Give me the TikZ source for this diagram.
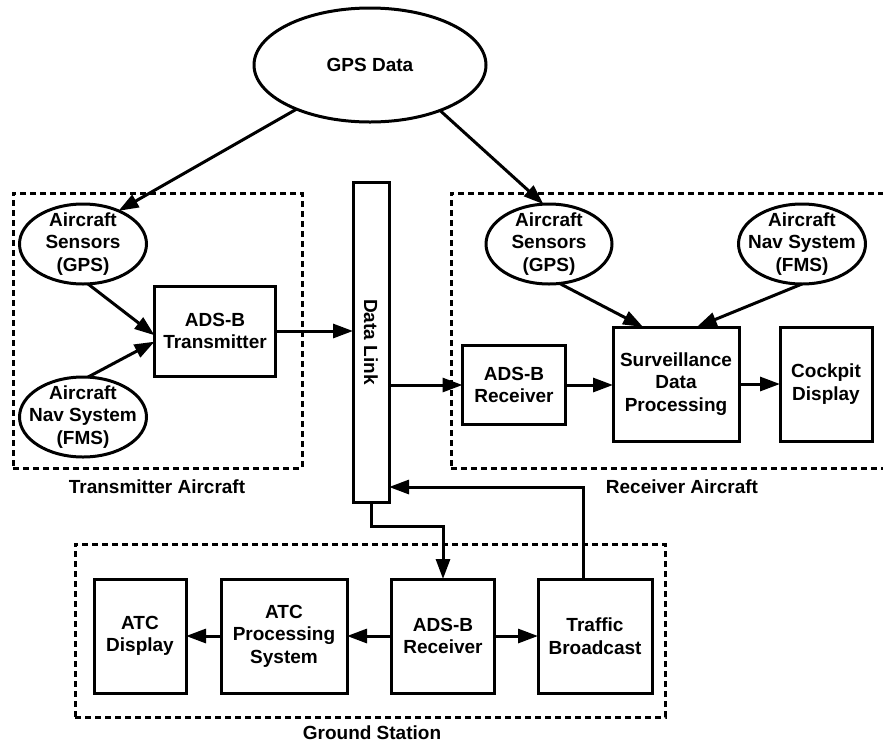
\documentclass[tikz,border=0pt]{standalone}
\usepackage{fontspec}
\setmainfont{Liberation Sans}
\usetikzlibrary{shapes.geometric,arrows.meta,calc}
\begin{document}
\begin{tikzpicture}[x=1pt,y=-1pt,
  every node/.style={font=\bfseries\fontsize{19}{22.5}\selectfont, align=center, inner sep=0pt, outer sep=0pt},
  blk/.style={draw, line width=3pt, rectangle},
  ell/.style={draw, line width=3pt, ellipse},
  grp/.style={draw, line width=3pt, dash pattern=on 6pt off 4pt, rectangle},
  arr/.style={line width=3pt, -{Triangle[length=20pt,width=14pt]}}]
\useasboundingbox (0,0) rectangle (883,745);
% groups
\node[grp, minimum width=289pt, minimum height=275pt] (txgrp) at (157.5,330.5) {};
\node[grp, minimum width=444pt, minimum height=275pt] (rxgrp) at (673,330.5) {};
\node[grp, minimum width=590pt, minimum height=173pt] (ggrp) at (370,630.5) {};
\node (txlbl) at (157,487) {Transmitter Aircraft};
\node (rxlbl) at (682,487) {Receiver Aircraft};
\node (glbl) at (372,733) {Ground Station};
% ellipses (shape and text separately, so the text does not enlarge the shape)
\node[ell, minimum width=232pt, minimum height=114pt] (gps) at (370,65) {};
\node (gpst) at (gps.center) {GPS Data};
\node[ell, minimum width=127pt, minimum height=80pt] (txs) at (83,244) {};
\node (txst) at (txs.center) {Aircraft\\Sensors\\(GPS)};
\node[ell, minimum width=127pt, minimum height=80pt] (txn) at (83,417) {};
\node (txnt) at (txn.center) {Aircraft\\Nav System\\(FMS)};
\node[ell, minimum width=126pt, minimum height=80pt] (rxs) at (549,244) {};
\node (rxst) at (rxs.center) {Aircraft\\Sensors\\(GPS)};
\node[ell, minimum width=127pt, minimum height=80pt] (rxn) at (802,244) {};
\node (rxnt) at (rxn.center) {Aircraft\\Nav System\\(FMS)};
% boxes
\node[blk, minimum width=121pt, minimum height=90pt] (adsbtx) at (215,331) {ADS-B\\Transmitter};
\node[blk, minimum width=36pt, minimum height=320pt] (dl) at (371,342) {};
\node[rotate=-90] (dltext) at (dl.center) {Data Link};
\node[blk, minimum width=103pt, minimum height=79pt] (rxadsb) at (514,385) {ADS-B\\Receiver};
\node[blk, minimum width=126pt, minimum height=114pt] (sdp) at (676,384) {Surveillance\\Data\\Processing};
\node[blk, minimum width=92pt, minimum height=114pt] (cockpit) at (826,384) {Cockpit\\Display};
\node[blk, minimum width=92pt, minimum height=114pt] (atcd) at (140,636) {ATC\\Display};
\node[blk, minimum width=126pt, minimum height=114pt] (atcp) at (284,636) {ATC\\Processing\\System};
\node[blk, minimum width=103pt, minimum height=114pt] (gadsb) at (443,636) {ADS-B\\Receiver};
\node[blk, minimum width=114pt, minimum height=114pt] (traffic) at (595,636) {Traffic\\Broadcast};
% connectors
\draw[arr] (gps.211.6) -- (txs.43);
\draw[arr] (gps.327) -- (rxs.98);
\draw[arr] (txs.277) -- (adsbtx.184);
\draw[arr] (txn.83) -- (adsbtx.190);
\draw[arr] (adsbtx.east) -- (adsbtx.east -| dl.west);
\draw[arr] (rxadsb.west -| dl.east) -- (rxadsb.west);
\draw[arr] (rxadsb.east) -- (rxadsb.east -| sdp.west);
\draw[arr] (rxs.285) -- (sdp.120);
\draw[arr] (rxn.270) -- (sdp.70);
\draw[arr] (sdp.east |- cockpit.west) -- (cockpit.west);
\draw[arr] (dl.south) -- ++(0,24) -| (gadsb.north);
\draw[arr] (traffic.101) |- ($(dl.south east)+(0,-15)$);
\draw[arr] (gadsb.west) -- (atcp.east);
\draw[arr] (atcp.west) -- (atcd.east);
\draw[arr] (gadsb.east) -- (traffic.west);
\end{tikzpicture}
\end{document}
